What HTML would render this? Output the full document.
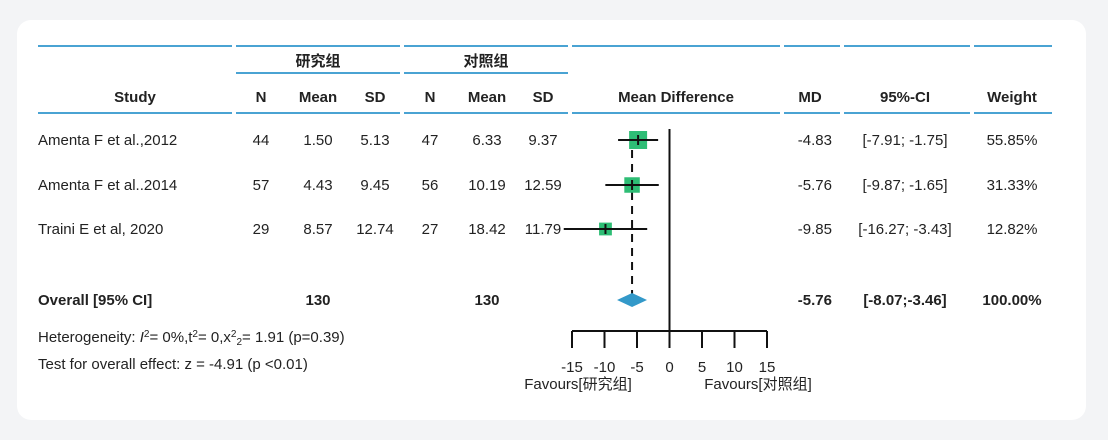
<!DOCTYPE html>
<html><head><meta charset="utf-8"><style>
html,body{margin:0;padding:0;background:#f3f4f6;width:1108px;height:440px;overflow:hidden}
#card{position:absolute;left:17px;top:20px;width:1069px;height:400px;background:#fff;border-radius:14px}
svg{position:absolute;left:0;top:0}
text{font-family:"Liberation Sans","Noto Sans CJK SC",sans-serif;font-size:15px;fill:#222}
.b{font-weight:bold}
</style></head><body>
<div id="card"></div>
<svg id="s" width="1108" height="440"></svg>
<script>
const studies=["Amenta F et al.,2012","Amenta F et al..2014","Traini E et al, 2020"];
const expN=[44,57,29], expMean=["1.50","4.43","8.57"], expSD=["5.13","9.45","12.74"];
const ctlN=[47,56,27], ctlMean=["6.33","10.19","18.42"], ctlSD=["9.37","12.59","11.79"];
const md=[-4.83,-5.76,-9.85], lo=[-7.91,-9.87,-16.27], hi=[-1.75,-1.65,-3.43];
const weight=[55.85,31.33,12.82];
const overall={md:-5.76,lo:-8.07,hi:-3.46,n1:130,n2:130};
const ticks=[-15,-10,-5,0,5,10,15];
const NS="http://www.w3.org/2000/svg", s=document.getElementById('s');
function el(t,a,txt){const e=document.createElementNS(NS,t);for(const k in a)e.setAttribute(k,a[k]);if(txt!==undefined)e.textContent=txt;s.appendChild(e);return e;}
const x=v=>669.5+v*6.5;
const rowY=[140,185,229];
// header lines
const blue="#4aa3d3";
[[38,232],[236,400],[404,568],[572,780],[784,840],[844,970],[974,1052]].forEach(([a,b])=>{
 const l=el('line',{x1:a,x2:b,y1:46,y2:46,stroke:blue,'stroke-width':2});
 const m=el('line',{x1:a,x2:b,y1:113,y2:113,stroke:blue,'stroke-width':2});});
[[236,400],[404,568]].forEach(([a,b])=>{const l=el('line',{x1:a,x2:b,y1:73,y2:73,stroke:blue,'stroke-width':2});});
function T(xp,y,t,cls,anchor,name){const e=el('text',{x:xp,y:y,'text-anchor':anchor||'middle',class:cls||''},t);return e;}
T(318,66,"研究组","b",'middle','exp-group-label');T(486,66,"对照组","b",'middle','ctl-group-label');
const hd=[[135,"Study"],[261,"N"],[318,"Mean"],[375,"SD"],[430,"N"],[487,"Mean"],[543,"SD"],[676,"Mean Difference"],[810,"MD"],[905,"95%-CI"],[1012,"Weight"]];
hd.forEach(([p,t])=>T(p,102,t,'b','middle','column-header'));
studies.forEach((st,i)=>{const y=rowY[i]+5;
 T(38,y,st,'','start','study-name');T(261,y,expN[i],'','middle','exp-n');T(318,y,expMean[i],'','middle','exp-mean');T(375,y,expSD[i],'','middle','exp-sd');
 T(430,y,ctlN[i],'','middle','ctl-n');T(487,y,ctlMean[i],'','middle','ctl-mean');T(543,y,ctlSD[i],'','middle','ctl-sd');
 T(832,y,md[i].toFixed(2),'','end','md-value');T(905,y,`[${lo[i].toFixed(2)}; ${hi[i].toFixed(2)}]`,'','middle','ci-value');T(1012,y,weight[i].toFixed(2)+'%','','middle','weight-value');
});
T(38,305,"Overall [95% CI]",'b','start','overall-label');T(318,305,overall.n1,'b','middle','overall-exp-n');T(487,305,overall.n2,'b','middle','overall-ctl-n');
T(832,305,overall.md.toFixed(2),'b','end','overall-md');T(905,305,`[${overall.lo.toFixed(2)};${overall.hi.toFixed(2)}]`,'b','middle','overall-ci');T(1012,305,"100.00%",'b','middle','overall-weight');
const h=el('text',{x:38,y:342});
h.innerHTML='Heterogeneity: <tspan font-style="italic">I</tspan><tspan font-size="10" dy="-5">2</tspan><tspan dy="5">= 0%,t</tspan><tspan font-size="10" dy="-5">2</tspan><tspan dy="5">= 0,x</tspan><tspan font-size="10" dy="-5">2</tspan><tspan font-size="10" dy="8">2</tspan><tspan dy="-3">=  1.91 (p=0.39)</tspan>';
T(38,369,"Test for overall effect: z = -4.91 (p <0.01)",'','start','overall-effect');
// zero line
const z=el('line',{x1:x(0),x2:x(0),y1:129,y2:331,stroke:'#111','stroke-width':2});
const d=el('line',{x1:x(overall.md),x2:x(overall.md),y1:150,y2:294,stroke:'#111','stroke-width':2,'stroke-dasharray':'8,6'});
const maxW=Math.max(...weight);
studies.forEach((st,i)=>{const y=rowY[i];
 const sz=8+10*Math.sqrt(weight[i]/maxW);
 const r=el('rect',{x:x(md[i])-sz/2,y:y-sz/2,width:sz,height:sz,fill:'#2ebd75'});
 const l=el('line',{x1:x(lo[i]),x2:x(hi[i]),y1:y,y2:y,stroke:'#111','stroke-width':2});
 const t=el('line',{x1:x(md[i]),x2:x(md[i]),y1:y-5,y2:y+5,stroke:'#111','stroke-width':2});
});
const dm=el('polygon',{points:`${x(overall.lo)},300 ${x(overall.md)},293 ${x(overall.hi)},300 ${x(overall.md)},307`,fill:'#3399c9'});
const ax=el('line',{x1:x(-15),x2:x(15),y1:331,y2:331,stroke:'#111','stroke-width':2});
ticks.forEach(v=>{const tk=el('line',{x1:x(v),x2:x(v),y1:331,y2:348,stroke:'#111','stroke-width':2});
 const tl=el('text',{x:x(v),y:372,'text-anchor':'middle','font-size':14},v);});
const f1=el('text',{x:578,y:389,'text-anchor':'middle','font-size':14},"Favours[研究组]");
const f2=el('text',{x:758,y:389,'text-anchor':'middle','font-size':14},"Favours[对照组]");
</script>
</body></html>
